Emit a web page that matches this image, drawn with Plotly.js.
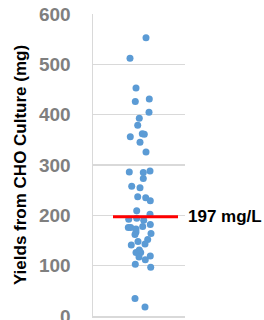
<!DOCTYPE html>
<html>
<head>
<meta charset="utf-8">
<script src="https://cdn.plot.ly/plotly-3.0.1.min.js"></script>
<style>html,body{margin:0;padding:0;background:#fff;}#chart{width:264px;height:320px;}</style>
</head>
<body>
<div id="chart"></div>
<script>
// Yields (mg)
var yields = [553,512,453,426,431,405,393,379,356,362,361,345,326,286,285,288,273,258,255,237,235,229,209,202,192,194,190,176,176,173,167,178,182,164,162,152,148,143,141,126,131,126,117,119,112,103,97,35,18];
// horizontal jitter of each point (arbitrary units around the category centre)
var jitter = [7,-9,-3,-3.7,10.3,10,0.3,-1.3,-8.7,3.3,5.3,1,7,-9.7,4.3,11,4.3,-7.3,1,-1.3,6.7,11.3,-2.3,11,-10.3,-2.3,4.7,-10.7,-8.3,-3,-3,3.7,11.3,12,-4,8.7,-1,6,-7.7,-3,0.3,1.7,0,11.3,6.3,-3.7,11.7,-4,6];
var meanValue = [197];
var meanLabel = ["197 mg/L"];
var meanSpan = [-26, 39];
var yTicks = [0,100,200,300,400,500,600];

var fam = "Liberation Sans, Arial, sans-serif";

var traces = [
  {
    type: "scatter", mode: "markers",
    x: jitter, y: yields,
    marker: {color: "#5b9bd5", size: 7},
    hoverinfo: "y", cliponaxis: false
  },
  {
    type: "scatter", mode: "lines",
    x: meanSpan, y: [meanValue[0], meanValue[0]],
    line: {color: "#ff0000", width: 3},
    hoverinfo: "skip"
  }
];

var layout = {
  width: 264, height: 320,
  margin: {l: 93, r: 79, t: 14, b: 4},
  paper_bgcolor: "#ffffff", plot_bgcolor: "#ffffff",
  showlegend: false,
  xaxis: {
    range: [-46, 46], showticklabels: false, showgrid: false, zeroline: false,
    showline: true, linecolor: "#d9d9d9", linewidth: 1.5, fixedrange: true
  },
  yaxis: {
    range: [0, 600], tickvals: yTicks, ticktext: yTicks.map(String),
    showgrid: true, gridcolor: "#d9d9d9", gridwidth: 1.5, zeroline: false,
    showline: true, linecolor: "#d9d9d9", linewidth: 1.5,
    ticks: "", ticklabelstandoff: 17, ticklabeloverflow: "allow",
    tickfont: {family: fam, weight: "bold", size: 19, color: "#7f7f7f"},
    title: {text: "Yields from CHO Culture (mg)", standoff: 8,
            font: {family: fam, weight: "bold", size: 17, color: "#000000"}},
    fixedrange: true
  },
  annotations: [{
    x: 1.01, y: meanValue[0], xref: "paper", yref: "y",
    text: meanLabel[0], showarrow: false, xanchor: "left", yanchor: "middle",
    font: {family: fam, weight: "bold", size: 17, color: "#000000"}
  }]
};

Plotly.newPlot("chart", traces, layout, {staticPlot: true, displayModeBar: false});
</script>
</body>
</html>
